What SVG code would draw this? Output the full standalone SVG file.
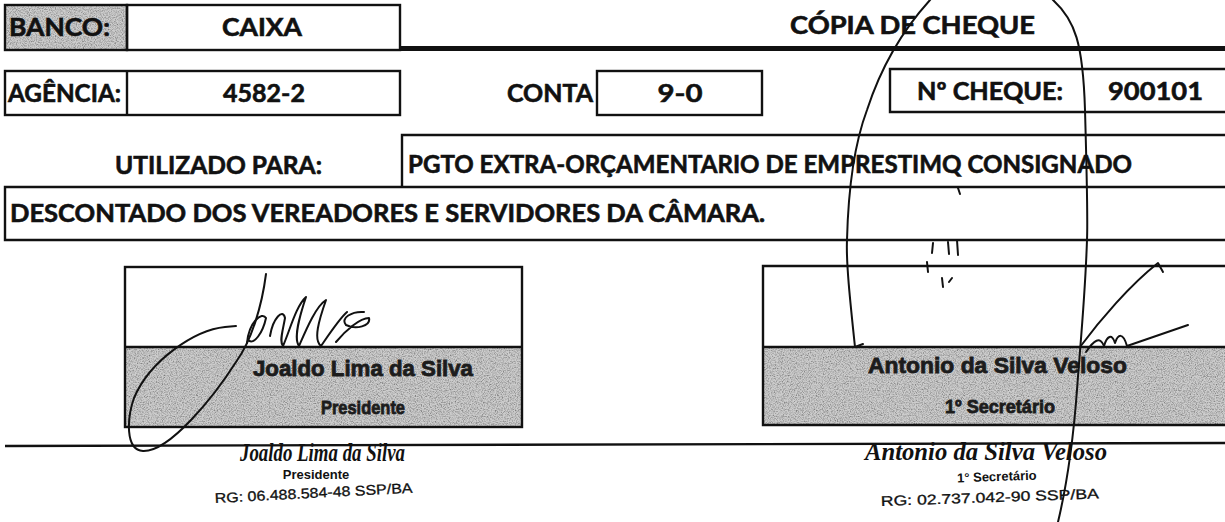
<svg xmlns="http://www.w3.org/2000/svg" width="1225" height="522" viewBox="0 0 1225 522">
<defs>
<filter id="grain" x="0" y="0" width="100%" height="100%">
  <feTurbulence type="fractalNoise" baseFrequency="0.85" numOctaves="2" seed="7" result="n"/>
  <feColorMatrix in="n" type="matrix" values="0 0 0 0 0.2  0 0 0 0 0.2  0 0 0 0 0.2  2.2 0 0 0 -0.85" result="dark"/>
  <feComposite in="dark" in2="SourceAlpha" operator="in" result="d2"/>
  <feMerge><feMergeNode in="SourceGraphic"/><feMergeNode in="d2"/></feMerge>
</filter>
<style>
.ln{stroke:#111;stroke-width:2.4;fill:none}
.gray{fill:#cdcdcd;filter:url(#grain)}
.f{font-family:Lato,"Liberation Sans",sans-serif;font-weight:700;font-size:25px;fill:#111;stroke:#111;stroke-width:0.6}
.g{font-family:"Liberation Sans",Arial,sans-serif;font-weight:700;fill:#1c1c1c;stroke:#1c1c1c;stroke-width:0.8}
.it{font-family:"Liberation Serif","Times New Roman",serif;font-style:italic;font-weight:700;font-size:25px;fill:#111}
.s{font-family:"Liberation Sans",Arial,sans-serif;font-weight:700;font-size:13px;fill:#111}
.r{font-family:"Liberation Sans",Arial,sans-serif;font-size:14px;fill:#111;stroke:#111;stroke-width:0.3}
.pen{stroke:#111;stroke-width:2;fill:none;stroke-linecap:round;stroke-linejoin:round}
</style>
</defs>
<rect width="1225" height="522" fill="#fff"/>

<g id="banco">
  <rect class="gray" x="5" y="5" width="122" height="45"/>
  <rect class="ln" x="5" y="5" width="122" height="45"/>
  <text class="f" x="9" y="36" textLength="101" lengthAdjust="spacingAndGlyphs" fill="#222">BANCO:</text>
</g>
<g id="caixa">
  <rect class="ln" x="127" y="5" width="273" height="45"/>
  <text class="f" x="262" y="36" text-anchor="middle" textLength="80" lengthAdjust="spacingAndGlyphs">CAIXA</text>
</g>
<g id="titulo">
  <rect x="400" y="46" width="825" height="5" fill="#111"/>
  <text class="f" x="790" y="34" textLength="245" lengthAdjust="spacingAndGlyphs">CÓPIA DE CHEQUE</text>
</g>

<g id="agencia">
  <rect class="ln" x="5" y="71" width="395" height="44"/>
  <line class="ln" x1="127" y1="71" x2="127" y2="115"/>
  <text class="f" x="8" y="102" textLength="113" lengthAdjust="spacingAndGlyphs">AGÊNCIA:</text>
  <text class="f" x="264" y="102" text-anchor="middle" textLength="82" lengthAdjust="spacingAndGlyphs">4582-2</text>
</g>
<g id="conta">
  <text class="f" x="507" y="102" textLength="86" lengthAdjust="spacingAndGlyphs">CONTA</text>
  <rect class="ln" x="597" y="71" width="165" height="44"/>
  <text class="f" x="680" y="102" text-anchor="middle" textLength="45" lengthAdjust="spacingAndGlyphs">9-0</text>
</g>
<g id="cheque">
  <path class="ln" d="M1226,69 H890 V112 H1226"/>
  <text class="f" x="917" y="100" textLength="146" lengthAdjust="spacingAndGlyphs">Nº CHEQUE:</text>
  <text class="f" x="1108" y="100" textLength="95" lengthAdjust="spacingAndGlyphs">900101</text>
</g>

<g id="utilizado">
  <text class="f" x="115" y="174" textLength="207" lengthAdjust="spacingAndGlyphs">UTILIZADO PARA:</text>
  <path class="ln" d="M1226,135 H402 V187"/>
  <text class="f" x="408" y="173" textLength="724" lengthAdjust="spacingAndGlyphs">PGTO EXTRA-ORÇAMENTARIO DE EMPRESTIMQ CONSIGNADO</text>
</g>
<g id="descontado">
  <path class="ln" d="M1226,187 H5 V240 H1226"/>
  <text class="f" x="10" y="222" textLength="755" lengthAdjust="spacingAndGlyphs">DESCONTADO DOS VEREADORES E SERVIDORES DA CÂMARA.</text>
</g>

<g id="assinatura-presidente">
  <rect class="gray" x="125" y="347" width="397" height="80"/>
  <rect class="ln" x="125" y="267" width="397" height="160"/>
  <line class="ln" x1="125" y1="347" x2="522" y2="347"/>
  <text class="g" x="253" y="376" font-size="22" textLength="220" lengthAdjust="spacingAndGlyphs">Joaldo Lima da Silva</text>
  <text class="g" x="363" y="414" font-size="19" text-anchor="middle" textLength="84" lengthAdjust="spacingAndGlyphs">Presidente</text>
</g>
<g id="assinatura-secretario">
  <rect class="gray" x="763" y="347" width="463" height="78"/>
  <path class="ln" d="M1226,266 H763 V425 H1226"/>
  <line class="ln" x1="763" y1="347" x2="1226" y2="347"/>
  <text class="g" x="868" y="373" font-size="22" textLength="259" lengthAdjust="spacingAndGlyphs">Antonio da Silva Veloso</text>
  <text class="g" x="1000" y="413" font-size="19" text-anchor="middle" textLength="110" lengthAdjust="spacingAndGlyphs">1º Secretário</text>
</g>

<g id="rodape">
  <line x1="5" y1="446" x2="1225" y2="443" stroke="#111" stroke-width="2.4"/>
  <text class="it" x="240" y="461" textLength="165" lengthAdjust="spacingAndGlyphs">Joaldo Lima da Silva</text>
  <text class="s" x="316" y="479" text-anchor="middle">Presidente</text>
  <text class="r" x="215" y="503" textLength="198" lengthAdjust="spacingAndGlyphs" transform="rotate(-3 215 503)">RG: 06.488.584-48 SSP/BA</text>
  <text class="it" x="865" y="460" textLength="242" lengthAdjust="spacingAndGlyphs">Antonio da Silva Veloso</text>
  <text class="s" x="997" y="481" text-anchor="middle" transform="rotate(-2 997 481)">1° Secretário</text>
  <text class="r" x="881" y="506" textLength="218" lengthAdjust="spacingAndGlyphs" transform="rotate(-2 881 506)">RG: 02.737.042-90 SSP/BA</text>
</g>

<g id="rubricas">
  <path class="pen" d="M855,347 C850,300 846,262 847,240 C848,200 852,150 867,110 C880,70 900,33 930,0 C960,-35 1030,-25 1053,0 C1075,20 1083,43 1085,110 C1087,180 1088,215 1087,240 C1085,300 1080,347 1077,390 C1074,430 1068,480 1058,522"/>
  <path class="pen" d="M855,347 L863,344"/>
  <path class="pen" d="M958,188 l2,6 M933,243 l-1,10 M948,242 l1,12 M957,240 l1,15 M927,262 l1,10 M942,278 l1,9 M949,282 l3,-4"/>
  <path class="pen" d="M1080,347 C1100,320 1130,285 1158,263 L1163,272"/>
  <path class="pen" d="M1086,352 C1094,340 1100,336 1104,346 C1107,336 1112,333 1115,343 C1118,334 1123,332 1127,346 L1188,325"/>
  <path class="pen" d="M266,274 C262,305 252,340 236,362 C215,395 170,452 143,451 C125,450 127,418 134,398 C150,360 195,330 225,327 L236,326"/>
  <path class="pen" d="M247,343 C249,322 262,311 266,318 C263,332 254,346 248,340 M270,336 C273,318 283,308 285,318 C283,330 279,342 283,346 C290,330 296,306 306,297 C300,315 293,338 299,346 C306,330 316,306 326,300 C319,320 313,340 321,346 C332,330 340,318 347,312 M336,342 C346,330 360,318 369,318 C371,326 356,330 346,325 C340,318 352,311 364,312"/>
</g>
</svg>
